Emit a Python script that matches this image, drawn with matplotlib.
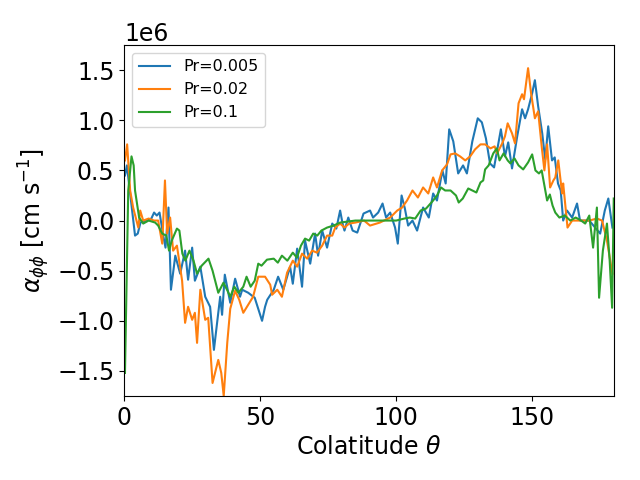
import numpy as np
import matplotlib
matplotlib.use('Agg')
import matplotlib.pyplot as plt

# values, alpha in units of 1e6 cm/s
theta_a = [0.3, 1.0, 2.2, 4.0, 5.0, 6.0, 8.0, 10.0, 11.0, 12.0, 13.0, 14.5, 15.2, 16.3, 17.2, 18.8,
           20.6, 22.4, 23.5, 25.0, 26.0, 28.0, 29.8, 31.6, 33.0, 34.6, 35.3, 36.0, 37.0, 39.0, 40.8,
           42.6, 43.4, 45.6, 48.0, 50.7, 51.8, 52.6, 55.0, 56.6, 58.5, 61.0, 62.0, 63.6, 65.4, 66.5,
           68.4, 70.2, 71.3, 72.8, 74.6, 76.5, 78.0, 79.4, 80.3, 81.0, 82.4, 84.0, 85.7, 86.8, 88.0,
           90.4, 91.5, 93.4, 95.0, 96.3, 97.8, 99.6, 100.6, 102.0, 103.2, 104.4, 106.0, 107.7, 109.9,
           112.0, 113.6, 115.0, 117.0, 118.2, 119.5, 121.0, 122.8, 124.6, 126.0, 128.0, 130.0, 131.5,
           133.0, 134.5, 136.0, 138.5, 140.0, 141.2, 142.6, 144.5, 146.3, 147.4, 148.5, 150.0, 151.0,
           152.2, 153.7, 154.8, 155.9, 157.3, 158.3, 159.5, 160.5, 161.4, 162.8, 164.7, 166.5, 167.6,
           171.0, 175.0, 176.7, 178.0, 179.5]
alpha_a = [0.45, 0.55, 0.27, -0.15, -0.13, -0.02, 0.0, 0.02, 0.08, 0.05, 0.08, -0.17, -0.27, 0.13, -0.69, -0.35,
           -0.53, -0.3, -0.59, -0.27, -0.6, -0.46, -0.76, -0.86, -1.29, -0.92, -0.76, -0.94, -0.54, -0.82, -0.58,
           -0.76, -0.69, -0.72, -0.77, -1.0, -0.86, -0.79, -0.69, -0.56, -0.69, -0.46, -0.63, -0.28, -0.66, -0.2,
           -0.43, -0.13, -0.35, -0.1, -0.27, -0.03, -0.08, 0.1, -0.03, -0.1, 0.03, -0.1, -0.12, -0.03, 0.07,
           0.1, 0.03, 0.08, 0.17, 0.03, 0.08, -0.07, -0.23, 0.25, 0.12, -0.05, 0.0, -0.1, 0.13,
           0.03, 0.27, 0.2, 0.5, 0.37, 0.91, 0.79, 0.47, 0.55, 0.47, 0.79, 1.02, 0.98,
           0.82, 0.57, 0.53, 0.91, 0.64, 0.78, 0.52, 0.84, 1.11, 1.02, 1.11, 1.27, 1.4,
           1.14, 0.87, 0.61, 0.94, 0.6, 0.63, 0.37, 0.3, 0.0, 0.1, 0.03, 0.17, 0.0,
           0.0, -0.13, 0.1, 0.22, -0.07]

theta_b = [0.3, 1.1, 2.2, 3.3, 5.2, 5.9, 7.0, 9.0, 11.0, 12.5, 14.0, 15.0, 15.8, 16.9, 18.0, 19.4,
           20.6, 21.3, 22.4, 23.5, 25.0, 26.0, 26.8, 28.0, 29.8, 30.9, 32.5, 34.6, 35.7, 36.6, 37.9,
           39.0, 40.8, 42.3, 43.8, 45.6, 47.4, 49.3, 51.8, 53.7, 54.4, 56.3, 58.0, 59.9, 62.0, 63.6,
           65.4, 67.3, 69.1, 70.9, 72.8, 74.6, 76.5, 77.6, 79.4, 81.0, 82.7, 85.0, 88.2, 90.4, 94.0,
           97.8, 100.4, 102.2, 104.0, 106.0, 108.0, 109.9, 111.8, 113.6, 115.0, 116.9, 118.7, 120.0,
           121.7, 123.5, 125.4, 127.2, 129.0, 131.0, 132.7, 134.7, 136.2, 137.1, 139.0, 140.0, 141.0,
           142.6, 143.7, 145.0, 146.3, 147.0, 148.5, 149.6, 151.0, 152.2, 153.5, 154.5, 155.5, 156.6,
           157.8, 158.5, 159.6, 161.0, 161.4, 163.0, 164.7, 167.6, 171.0, 173.8, 175.7, 177.5, 179.5]
alpha_b = [0.6, 0.76, 0.3, 0.13, -0.07, 0.1, 0.0, 0.02, 0.0, 0.0, -0.23, 0.4, -0.13, 0.03, -0.3, -0.25,
           -0.47, -0.6, -1.02, -0.86, -0.99, -0.92, -1.22, -0.69, -0.99, -0.97, -1.62, -1.39, -1.52, -1.75, -1.22,
           -0.88, -0.7, -0.79, -0.92, -0.84, -0.76, -0.56, -0.56, -0.64, -0.74, -0.69, -0.76, -0.52, -0.4, -0.46,
           -0.33, -0.38, -0.3, -0.32, -0.25, -0.15, -0.15, -0.07, -0.03, -0.07, -0.03, -0.02, 0.0, -0.05, -0.02,
           0.03, 0.1, 0.13, 0.2, 0.3, 0.23, 0.33, 0.27, 0.43, 0.33, 0.5, 0.56, 0.66,
           0.67, 0.64, 0.6, 0.64, 0.71, 0.76, 0.76, 0.72, 0.74, 0.67, 0.77, 0.84, 0.97,
           0.87, 0.77, 1.17, 1.26, 1.21, 1.52, 1.27, 1.02, 1.09, 0.74, 0.5, 0.76, 0.33,
           0.4, 0.43, 0.6, 0.27, 0.37, -0.07, 0.0, 0.0, 0.0, 0.02, 0.0, -0.2, -0.53]

theta_c = [0.3, 1.5, 2.7, 3.5, 4.0, 5.5, 7.0, 9.0, 11.4, 12.5, 14.0, 15.5, 16.5, 17.5, 19.4, 20.3,
           21.4, 22.5, 24.0, 25.5, 26.8, 28.5, 31.0, 32.5, 34.6, 36.5, 38.0, 39.0, 40.5, 42.0, 43.8,
           45.0, 46.5, 48.0, 49.3, 50.5, 52.5, 55.0, 56.5, 58.0, 60.0, 62.0, 63.5, 65.0, 66.5, 68.0,
           69.5, 71.0, 72.5, 74.6, 77.0, 79.4, 85.0, 95.0, 100.0, 103.0, 105.0, 107.0, 109.0, 111.0,
           113.6, 115.0, 116.5, 118.0, 120.0, 122.0, 123.0, 124.5, 126.5, 128.0, 129.5, 131.0, 132.0,
           132.7, 134.0, 135.7, 137.0, 138.0, 139.5, 141.0, 142.0, 143.5, 145.0, 146.7, 148.5, 150.0,
           151.2, 152.5, 153.5, 154.5, 155.5, 156.5, 157.5, 158.5, 160.0, 162.0, 164.0, 166.0, 168.0,
           169.5, 171.0, 172.4, 173.8, 174.6, 176.0, 177.5, 178.5, 179.4, 180.0]
alpha_c = [-1.52, 0.3, 0.64, 0.55, 0.3, 0.03, -0.03, 0.0, -0.02, -0.05, -0.13, -0.15, -0.3, -0.2, -0.08, -0.1,
           -0.33, -0.4, -0.3, -0.4, -0.53, -0.45, -0.38, -0.5, -0.72, -0.62, -0.7, -0.76, -0.66, -0.72, -0.66,
           -0.56, -0.66, -0.6, -0.43, -0.45, -0.39, -0.38, -0.42, -0.35, -0.4, -0.32, -0.37, -0.25, -0.18, -0.2,
           -0.13, -0.15, -0.1, -0.07, -0.05, -0.02, 0.0, 0.0, 0.0, 0.02, 0.03, 0.02, 0.1, 0.12,
           0.2, 0.25, 0.33, 0.3, 0.3, 0.25, 0.18, 0.22, 0.32, 0.3, 0.28, 0.38, 0.4,
           0.51, 0.55, 0.67, 0.72, 0.6, 0.67, 0.6, 0.57, 0.62, 0.55, 0.51, 0.58, 0.66,
           0.5, 0.47, 0.5, 0.35, 0.2, 0.26, 0.15, 0.08, 0.03, 0.05, 0.0, 0.03, 0.0,
           -0.03, 0.05, -0.27, 0.13, -0.77, -0.3, -0.03, -0.4, -0.87, 0.22]

labels = ['Pr=0.005', 'Pr=0.02', 'Pr=0.1']

fig, ax = plt.subplots(figsize=(6.4, 4.8), dpi=100)
ax.plot(theta_a, np.array(alpha_a) * 1e6, color='#1f77b4', linewidth=1.5, label=labels[0])
ax.plot(theta_b, np.array(alpha_b) * 1e6, color='#ff7f0e', linewidth=1.5, label=labels[1])
ax.plot(theta_c, np.array(alpha_c) * 1e6, color='#2ca02c', linewidth=1.5, label=labels[2])

ax.set_xlim(0, 180)
ax.set_ylim(-1.75e6, 1.75e6)
ax.set_xticks([0, 50, 100, 150])
ax.set_xlabel(r'Colatitude $\theta$', fontsize=17)
ax.set_ylabel(r'$\alpha_{\phi\phi}$ [cm s$^{-1}$]', fontsize=17)
ax.tick_params(labelsize=17)
ax.yaxis.get_offset_text().set_fontsize(17)
ax.legend(loc='upper left', fontsize=11.5)

plt.subplots_adjust(left=0.194, right=0.959, top=0.906, bottom=0.175)
plt.savefig('out.png')
